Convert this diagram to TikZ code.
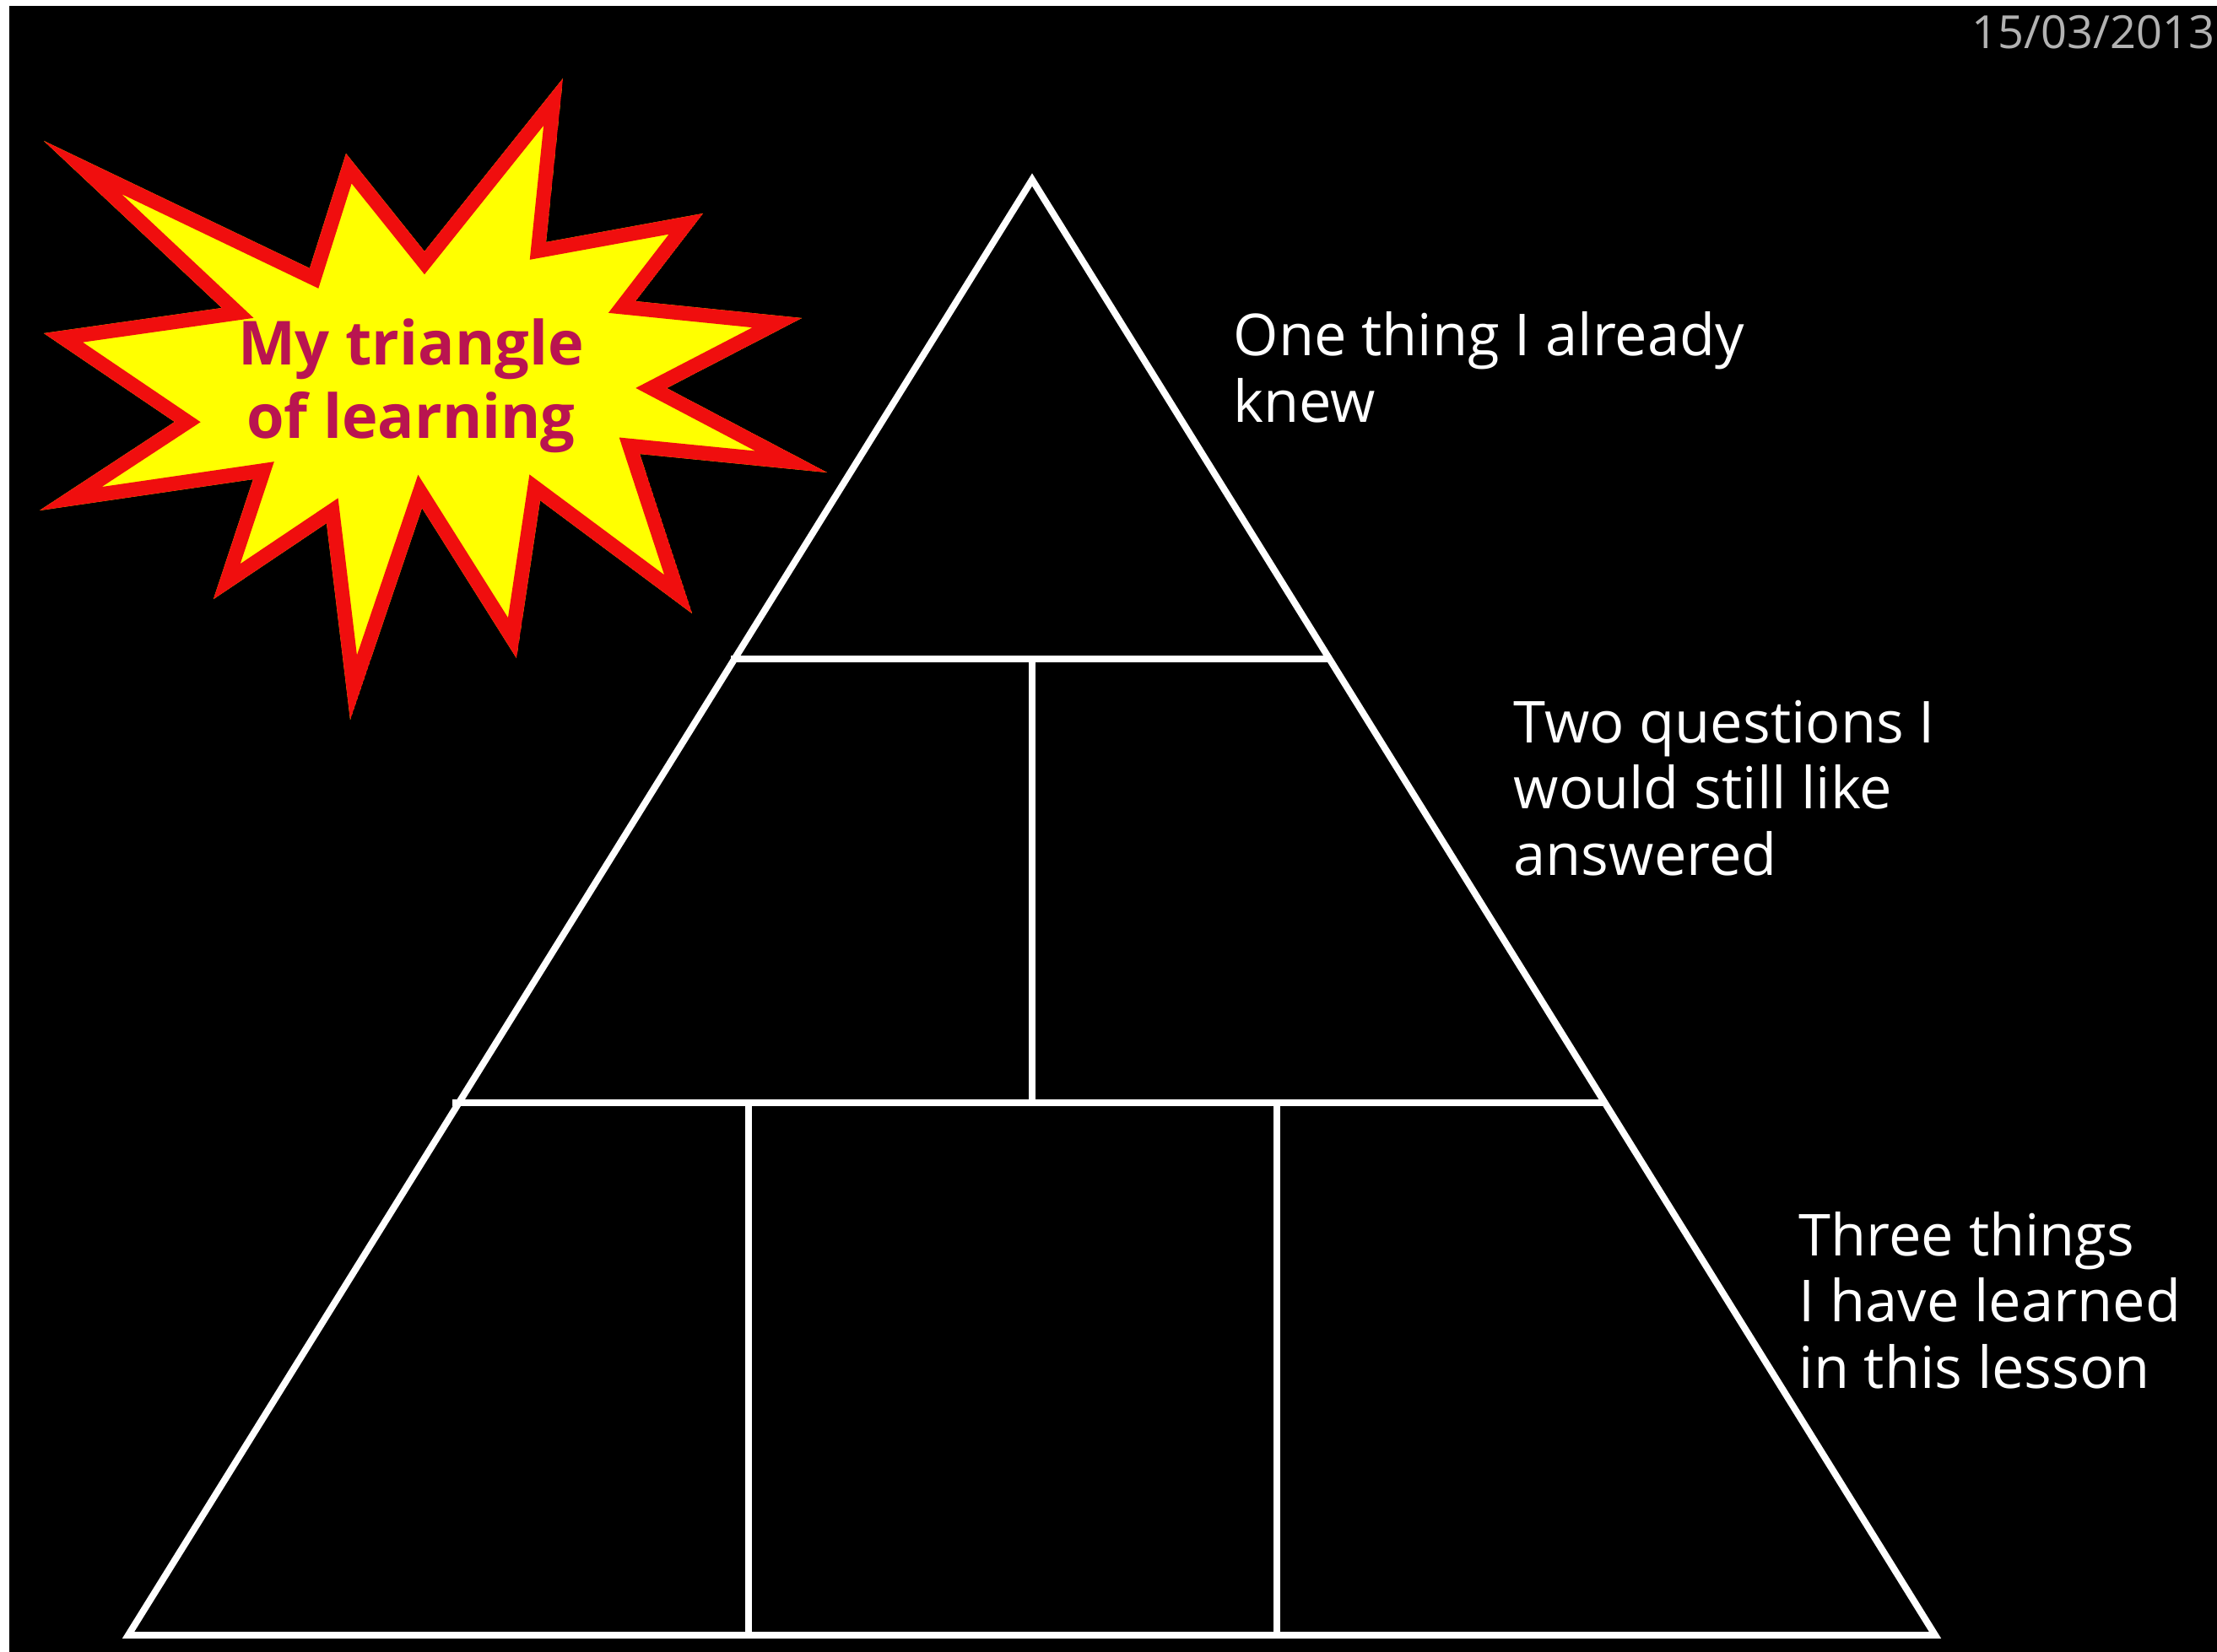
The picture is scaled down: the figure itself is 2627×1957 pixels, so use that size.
\documentclass[tikz,border=0pt]{standalone}
\usepackage{fontspec}
\setmainfont{Open Sans}
\definecolor{starred}{RGB}{240,14,14}
\definecolor{staryellow}{RGB}{255,255,0}
\definecolor{titlecol}{RGB}{185,20,80}
\definecolor{dategray}{RGB}{178,178,178}
\newcommand\starshape{(52,167) -- (367,318) -- (410,182) -- (503,298) -- (667,93) -- (647,287) -- (833,253) -- (753,357) -- (950,377) -- (790,460) -- (980,560) -- (758,538) -- (820,727) -- (640,593) -- (612,780) -- (500,602) -- (415,853) -- (387,620) -- (253,710) -- (300,568) -- (47,605) -- (207,500) -- (52,395) -- (263,365) -- cycle}
\tikzset{
  frame/.style={draw=white, line width=0.08cm, line join=miter},
  lbl/.style={text=white, font=\fontsize{19.5}{22.2}\selectfont, align=left, anchor=base west, inner sep=0pt},
}
\begin{document}
\begin{tikzpicture}[x=0.01cm,y=-0.01cm]
\useasboundingbox (0,0) rectangle (2627,1957);
\fill[white] (0,0) rectangle (2627,1957);
\fill[black] (11,7) rectangle (2660,1990);

% starburst
\begin{scope}
  \clip \starshape;
  \draw[fill=staryellow, draw=starred, line width=0.34cm, line join=miter] \starshape;
\end{scope}
\node[font=\bfseries\fontsize{20.5}{24.7}\selectfont, text=titlecol, align=center, inner sep=0pt] (title) at (487,457) {My triangle\\of learning};

% triangle of learning
\coordinate (apex) at (1223,213);
\coordinate (bl) at (152,1938);
\coordinate (br) at (2293,1938);
\coordinate (h1l) at (866,781);
\coordinate (h1r) at (1578,781);
\coordinate (h2l) at (536,1307);
\coordinate (h2r) at (1900,1307);
\coordinate (v1t) at (1223,781);
\coordinate (v1b) at (1223,1307);
\coordinate (v2t) at (887,1307);
\coordinate (v2b) at (887,1938);
\coordinate (v3t) at (1513,1307);
\coordinate (v3b) at (1513,1938);

\draw[frame] (apex) -- (br) -- (bl) -- cycle;
\draw[frame] (h1l) -- (h1r);
\draw[frame] (h2l) -- (h2r);
\draw[frame] (v1t) -- (v1b);
\draw[frame] (v2t) -- (v2b);
\draw[frame] (v3t) -- (v3b);

% labels (base anchor = baseline of the last line)
\node[lbl] (one) at (1461,500) {One thing I already\\knew};
\node[lbl] (two) at (1793,1037) {Two questions I\\would still like\\answered};
\node[lbl] (three) at (2131,1645) {Three things\\I have learned\\in this lesson};

\node[anchor=base east, text=dategray, inner sep=0pt, font=\fontsize{15.4}{18}\selectfont] (date) at (2625,57) {15/03/2013};
\end{tikzpicture}
\end{document}
